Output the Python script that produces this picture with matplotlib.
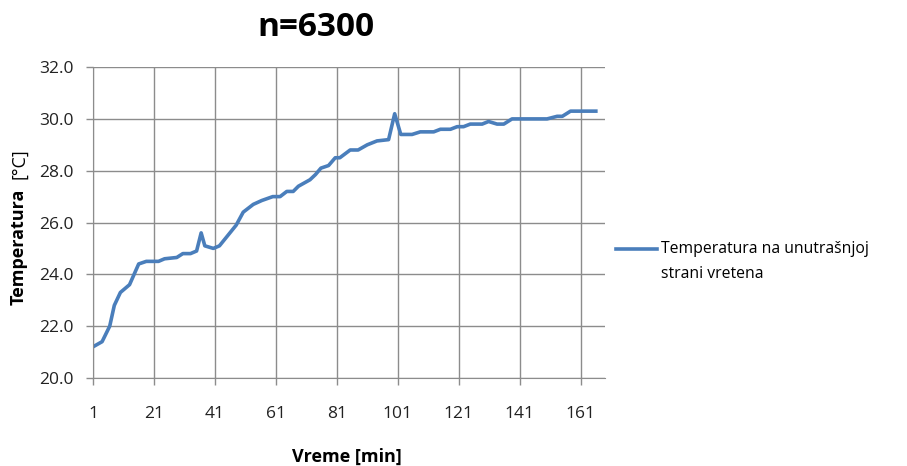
import numpy as np
import matplotlib.pyplot as plt
from matplotlib.legend_handler import HandlerLine2D

plt.rcParams['font.family'] = ['Open Sans', 'DejaVu Sans']

# Breakpoints (minute, temperature)
minutes = [1, 4, 6.5, 8, 10, 13, 16, 18.5, 22.5, 24.5, 28.5, 30.5, 33, 35, 36.5,
           37.7, 40.5, 42.5, 48, 50.3, 53.6, 56.4, 60, 62.4, 64.6, 66.7, 68.4,
           72.2, 74, 75.8, 78.3, 80.5, 82, 85.4, 88, 91, 94.2, 98, 100, 102,
           105.7, 108.4, 112.8, 115, 118.3, 120.5, 122.6, 124.8, 128.7, 130.8,
           133.6, 135.8, 138.5, 150, 153.3, 155, 157.7, 166]
temps = [21.2, 21.4, 22.0, 22.8, 23.3, 23.6, 24.4, 24.5, 24.5, 24.6, 24.65, 24.8,
         24.8, 24.9, 25.6, 25.1, 25.0, 25.1, 25.9, 26.4, 26.7, 26.85, 27.0, 27.0,
         27.2, 27.2, 27.4, 27.65, 27.85, 28.1, 28.2, 28.5, 28.5, 28.8, 28.8, 29.0,
         29.15, 29.2, 30.2, 29.4, 29.4, 29.5, 29.5, 29.6, 29.6, 29.7, 29.7, 29.8,
         29.8, 29.9, 29.8, 29.8, 30.0, 30.0, 30.1, 30.1, 30.3, 30.3]

xticks = [1, 21, 41, 61, 81, 101, 121, 141, 161]
yticks = [20, 22, 24, 26, 28, 30, 32]


# legend handle sits on the first line of a two-line label (Excel style)
class FirstLineHandler(HandlerLine2D):
    def __init__(self, shift, **kw):
        super().__init__(**kw)
        self.shift = shift

    def create_artists(self, legend, orig_handle, xdescent, ydescent, width,
                       height, fontsize, trans):
        arts = super().create_artists(legend, orig_handle, xdescent, ydescent,
                                      width, height, fontsize, trans)
        for a in arts:
            a.set_ydata(np.asarray(a.get_ydata()) + self.shift)
        return arts


fig = plt.figure(figsize=(9.07, 4.66), dpi=100)
ax = fig.add_axes([0.1025, 0.189, 0.5645, 0.667])

line, = ax.plot(minutes, temps, color='#4A7EBB', linewidth=2.6,
                solid_joinstyle='round',
                label='Temperatura na unutrašnjoj\nstrani vretena')

ax.set_xlim(1, 169)
ax.set_ylim(20, 32)
ax.set_xticks(xticks)
ax.set_yticks(yticks)
ax.set_yticklabels([f'{v:.1f}' for v in yticks])
ax.grid(True, color='#8c8c8c', linewidth=1.0)
ax.set_axisbelow(True)
for s in ['top', 'right']:
    ax.spines[s].set_visible(False)
for s in ['left', 'bottom']:
    ax.spines[s].set_color('#8c8c8c')
ax.tick_params(axis='both', colors='#8c8c8c', labelcolor='#222222',
               labelsize=12.5, length=5, width=1)
ax.tick_params(axis='x', pad=15)
ax.tick_params(axis='y', pad=9)

fig.text(316 / 907, 1 - 28 / 466, 'n=6300', fontsize=24, fontweight='bold',
         ha='center', va='center')
fig.text(347 / 907, 1 - 457 / 466, 'Vreme [min]', fontsize=13, fontweight='bold',
         ha='center', va='center')
fig.text(19 / 907, 1 - 247 / 466, 'Temperatura', fontsize=13, fontweight='bold',
         rotation=90, ha='center', va='center')
fig.text(19 / 907, 1 - 164 / 466, '[°C]', fontsize=13,
         rotation=90, ha='center', va='center')

leg = fig.legend(loc='center left', bbox_to_anchor=(0.664, 0.439), frameon=False,
                 fontsize=11.3, handlelength=2.6, handletextpad=0.25,
                 handler_map={line: FirstLineHandler(shift=9.5)})
for t in leg.get_texts():
    t.set_linespacing(1.7)

fig.savefig('out.png', dpi=100)
